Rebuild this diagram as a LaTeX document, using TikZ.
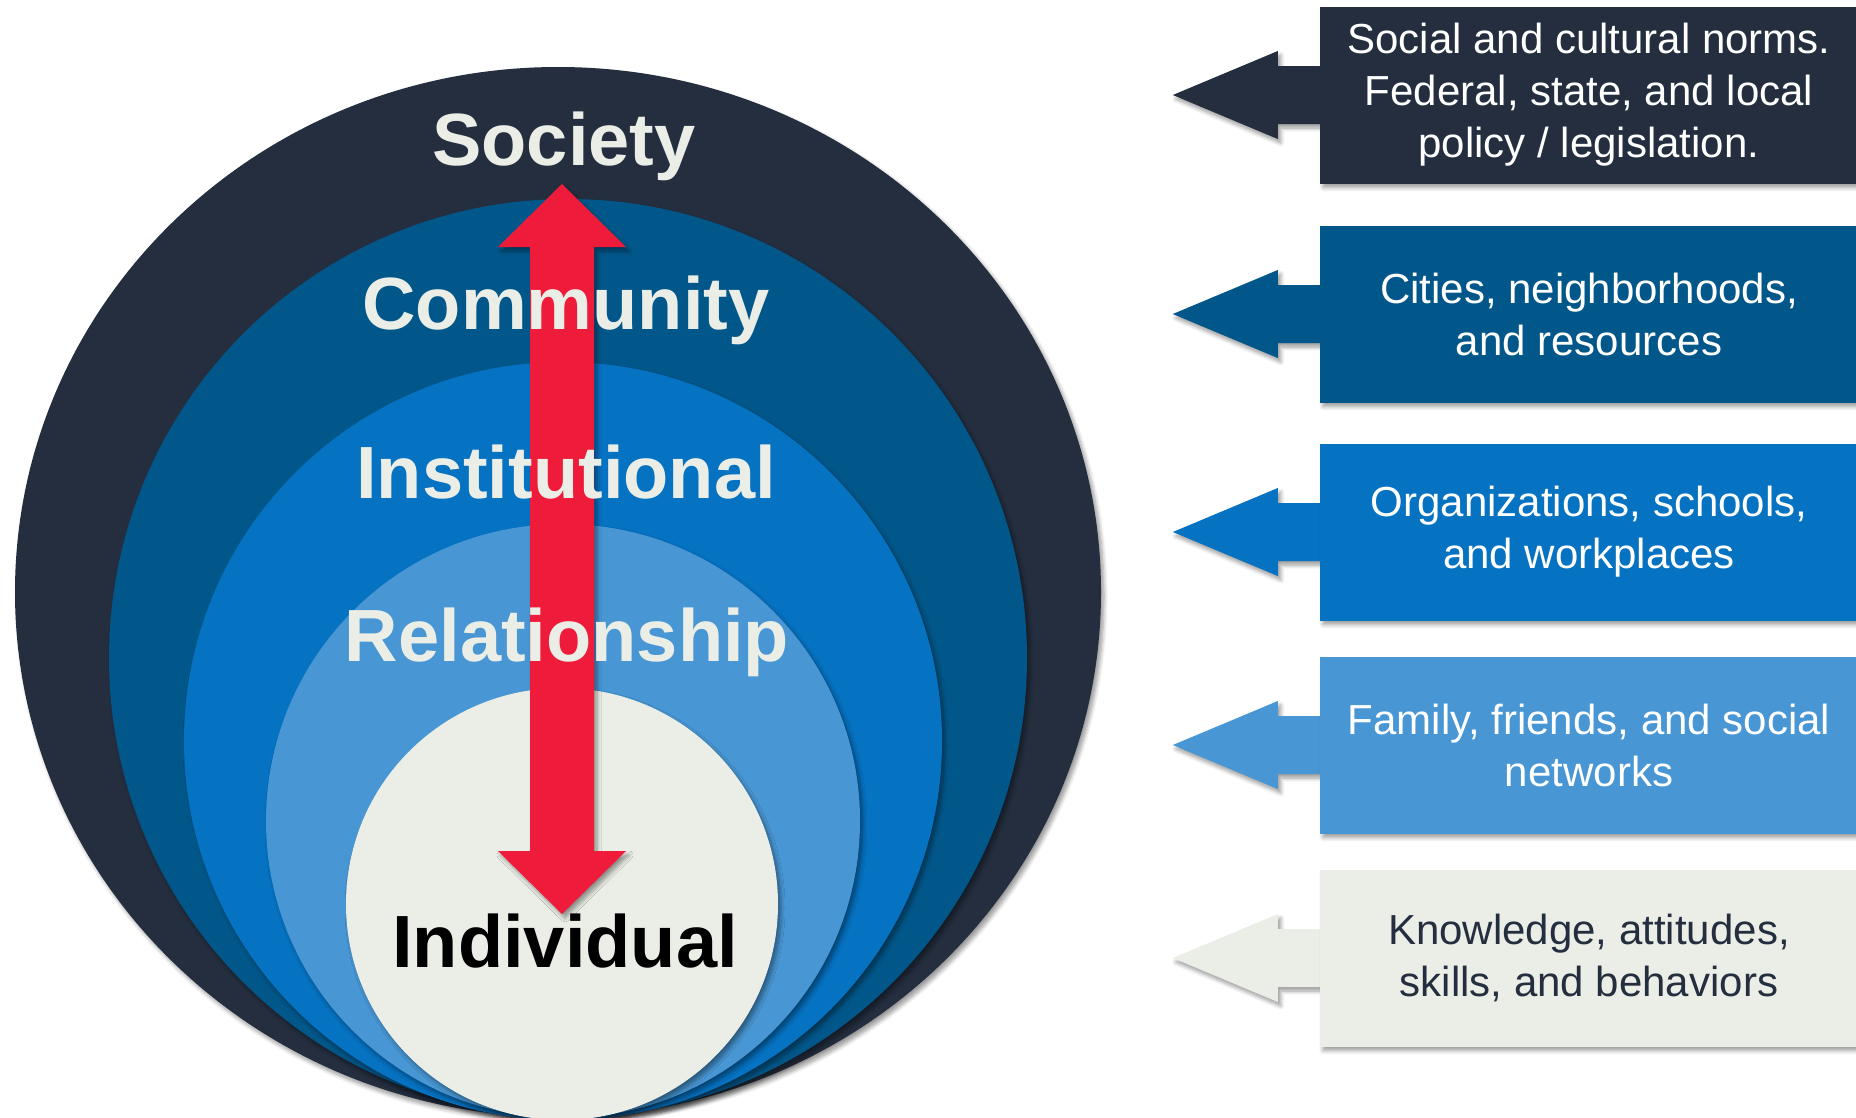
\documentclass[tikz,border=0pt]{standalone}
\usepackage{fontspec}
\setmainfont{Liberation Sans}
\usetikzlibrary{shadows.blur}

\definecolor{societyblue}{HTML}{242E3F}
\definecolor{communityblue}{HTML}{02578A}
\definecolor{institutionblue}{HTML}{0672C2}
\definecolor{relationblue}{HTML}{4896D3}
\definecolor{individualgrey}{HTML}{EBEEE6}
\definecolor{levelred}{HTML}{EE1B3A}

\pgfdeclarelayer{behind}
\pgfsetlayers{behind,main}

\begin{document}
\begin{tikzpicture}[x=1pt,y=-1pt,
  soft shadow/.style={blur shadow={shadow xshift=3pt,shadow yshift=-4pt,shadow blur radius=4pt,shadow blur steps=6,shadow opacity=40}},
  ring/.style={soft shadow},
  ring label/.style={anchor=base,text=individualgrey,font=\fontsize{74}{80}\selectfont\bfseries},
  info box/.style={soft shadow,minimum width=538pt,minimum height=177pt,inner sep=0pt,align=center,text=white,font=\fontsize{42}{52}\selectfont},
  side arrow/.style={soft shadow},
  red arrow/.style={soft shadow,fill=levelred}]

\useasboundingbox (0,0) rectangle (1856,1117);
\clip (0,0) rectangle (1856,1117);

% nested levels
\fill[ring,societyblue] (558,592) ellipse [x radius=543pt,y radius=525pt];
\fill[ring,communityblue] (568,658) circle [radius=459pt];
\fill[ring,institutionblue] (563,741) circle [radius=379pt];
\fill[ring,relationblue] (563,821) circle [radius=297pt];
\fill[ring,individualgrey] (562,904) circle [radius=216pt];

% up and down arrow
\coordinate (uptip) at (562,184);
\coordinate (downtip) at (562,914);
\fill[red arrow] (uptip) -- ++(64,63) -- ++(-32,0) -- ([xshift=32pt,yshift=63pt]downtip) -- ++(32,0)
  -- (downtip) -- ++(-64,-63) -- ++(32,0) -- ([xshift=-32pt,yshift=-63pt]uptip) -- ++(-32,0) -- cycle;

\node[ring label] (society) at (564,165) {Society};
\node[ring label] (community) at (566,329) {Community};
\node[ring label] (institutional) at (566,498) {Institutional};
\node[ring label] (relationship) at (567,661) {Relationship};
\node[ring label,text=black] (individual) at (565,967) {Individual};

% descriptions
\node[info box,fill=societyblue] (normsbox) at (1589,95) {Social and cultural norms.\\Federal, state, and local\\policy / legislation.};
\node[info box,fill=communityblue] (citiesbox) at (1589,314) {Cities, neighborhoods,\\and resources};
\node[info box,fill=institutionblue] (orgsbox) at (1589,532) {Organizations, schools,\\and workplaces};
\node[info box,fill=relationblue] (familybox) at (1589,745) {Family, friends, and social\\networks};
\node[info box,fill=individualgrey,text=societyblue] (skillsbox) at (1589,958) {Knowledge, attitudes,\\skills, and behaviors};

\begin{pgfonlayer}{behind}
\fill[side arrow,fill=societyblue] ([yshift=29pt]normsbox.west) -- ++(-42,0) -- ++(0,-15) -- ([xshift=-147pt]normsbox.west) -- ++(105,44) -- ++(0,-15) -- ([yshift=-29pt]normsbox.west) -- cycle;
\fill[side arrow,fill=communityblue] ([yshift=29pt]citiesbox.west) -- ++(-42,0) -- ++(0,-15) -- ([xshift=-147pt]citiesbox.west) -- ++(105,44) -- ++(0,-15) -- ([yshift=-29pt]citiesbox.west) -- cycle;
\fill[side arrow,fill=institutionblue] ([yshift=29pt]orgsbox.west) -- ++(-42,0) -- ++(0,-15) -- ([xshift=-147pt]orgsbox.west) -- ++(105,44) -- ++(0,-15) -- ([yshift=-29pt]orgsbox.west) -- cycle;
\fill[side arrow,fill=relationblue] ([yshift=29pt]familybox.west) -- ++(-42,0) -- ++(0,-15) -- ([xshift=-147pt]familybox.west) -- ++(105,44) -- ++(0,-15) -- ([yshift=-29pt]familybox.west) -- cycle;
\fill[side arrow,fill=individualgrey] ([yshift=29pt]skillsbox.west) -- ++(-42,0) -- ++(0,-15) -- ([xshift=-147pt]skillsbox.west) -- ++(105,44) -- ++(0,-15) -- ([yshift=-29pt]skillsbox.west) -- cycle;
\end{pgfonlayer}

\end{tikzpicture}
\end{document}
